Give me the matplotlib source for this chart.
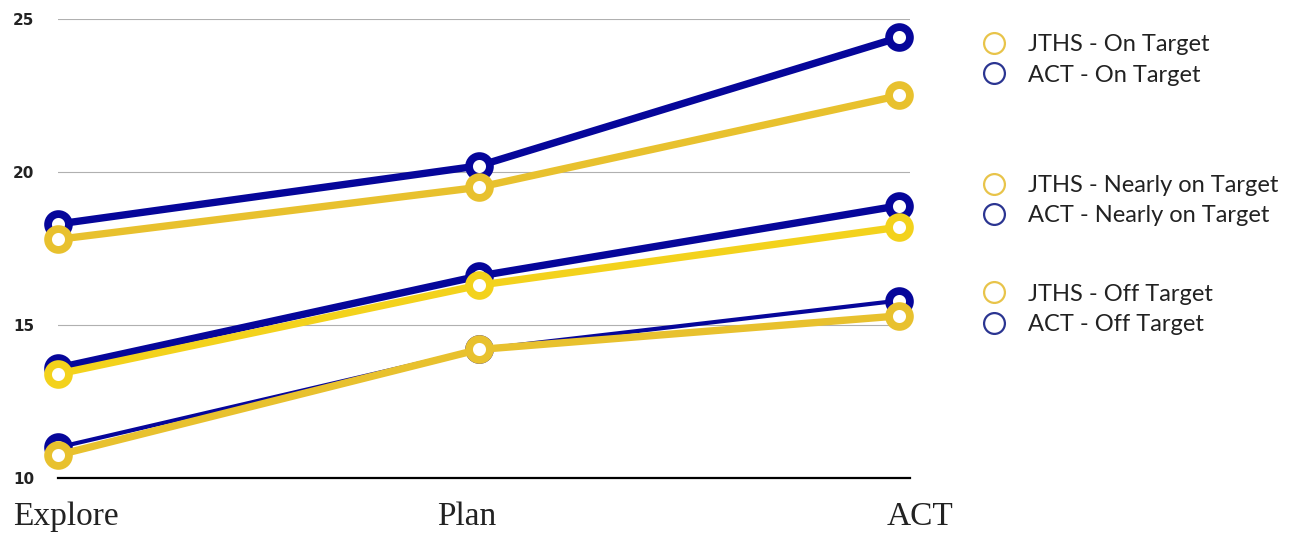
import matplotlib
matplotlib.use('Agg')
import matplotlib.pyplot as plt
import matplotlib.transforms as mtransforms
from matplotlib.lines import Line2D

stages = ['Explore', 'Plan', 'ACT']

act_on = [18.3, 20.2, 24.4]
jths_on = [17.8, 19.5, 22.5]
act_nearly = [13.6, 16.6, 18.9]
jths_nearly = [13.4, 16.3, 18.2]
act_off = [11.0, 14.2, 15.8]
jths_off = [10.75, 14.2, 15.3]

yticks = [10, 15, 20, 25]

NAVY = '#06069a'
GOLD = '#e8c12e'
BRIGHT = '#f3d21c'
LEG_GOLD = '#e8c44a'
LEG_NAVY = '#2b3591'

fig = plt.figure(figsize=(12.96, 5.35), dpi=100)
ax = fig.add_axes([0.0448, 0.1065, 0.657, 0.858])

x = list(range(len(stages)))
mk = dict(marker='o', markersize=15, markeredgewidth=5.6,
          markerfacecolor='white', linewidth=5.3, solid_capstyle='round',
          clip_on=False)

ax.plot(x, act_off, color=NAVY, zorder=3, **dict(mk, linewidth=3))
ax.plot(x, jths_off, color=GOLD, zorder=4, **mk)
ax.plot(x, act_nearly, color=NAVY, zorder=5, **mk)
ax.plot(x, jths_nearly, color=BRIGHT, zorder=6, **mk)
ax.plot(x, act_on, color=NAVY, zorder=7, **mk)
ax.plot(x, jths_on, color=GOLD, zorder=8, **mk)

ax.set_xlim(0, 2.024)
ax.set_ylim(10, 25)
ax.set_yticks(yticks)
ax.set_yticklabels([str(t) for t in yticks], fontsize=11, fontweight='bold',
                   family='DejaVu Sans', color='#222222')
ax.set_xticks(x)
ax.set_xticklabels(stages, fontsize=24, family='Liberation Serif', color='#222222')
ax.tick_params(axis='y', length=0, pad=17)
ax.tick_params(axis='x', length=0, pad=17)
# nudge the stage labels sideways as in the original layout
for lab, dx in zip(ax.get_xticklabels(), [8, -12, 21]):
    lab.set_transform(lab.get_transform() +
                      mtransforms.ScaledTranslation(dx / 100, 0, fig.dpi_scale_trans))
ax.grid(axis='y', color='#b0b0b0', linewidth=0.8)
ax.set_axisbelow(True)
for s in ['top', 'right', 'left']:
    ax.spines[s].set_visible(False)
ax.spines['bottom'].set_linewidth(1.6)
ax.spines['bottom'].set_color('black')
ax.spines['bottom'].set_zorder(10)

groups = [
    (['JTHS - On Target', 'ACT - On Target'], 0.958),
    (['JTHS - Nearly on Target', 'ACT - Nearly on Target'], 0.695),
    (['JTHS - Off Target', 'ACT - Off Target'], 0.492),
]
for labels, ytop in groups:
    handles = [Line2D([], [], linestyle='none', marker='o', markersize=15,
                      markerfacecolor='none', markeredgewidth=1.6, markeredgecolor=c)
               for c in (LEG_GOLD, LEG_NAVY)]
    fig.legend(handles, labels, loc='upper left', bbox_to_anchor=(0.740, ytop),
               frameon=False, prop={'family': 'Lato', 'size': 17},
               labelspacing=0.4, handletextpad=0.4, borderpad=0, labelcolor='#222222')

fig.savefig('out.png', dpi=100)
